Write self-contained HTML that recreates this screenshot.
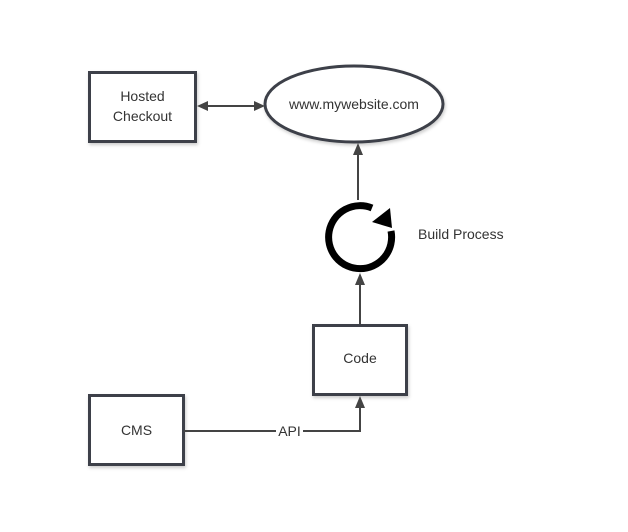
<!DOCTYPE html>
<html><head><style>
html,body{margin:0;padding:0;background:#fff;}
svg text{font-family:"Liberation Sans",sans-serif;fill:#333;font-size:14px;}
</style></head><body>
<svg width="628" height="527" viewBox="0 0 628 527" xmlns="http://www.w3.org/2000/svg">
<defs>
<filter id="sh" x="-10%" y="-10%" width="130%" height="130%"><feDropShadow dx="1" dy="2" stdDeviation="1.5" flood-opacity="0.2"/></filter>
</defs>
<g stroke="#3d4148" stroke-width="3" fill="#fff" filter="url(#sh)">
<rect x="89.5" y="72.5" width="106" height="69"/>
<ellipse cx="354" cy="104" rx="89" ry="38"/>
<rect x="313.5" y="325.5" width="93" height="69"/>
<rect x="89.5" y="395.5" width="94" height="69"/>
</g>
<g stroke="#444" stroke-width="2" fill="none">
<line x1="205" y1="106" x2="256" y2="106"/>
<line x1="358" y1="152" x2="358" y2="200"/>
<line x1="360" y1="283" x2="360" y2="324"/>
<polyline points="184,431 360,431 360,405"/>
</g>
<g fill="#444">
<polygon points="197,106 208,101 208,111"/>
<polygon points="265,106 254,101 254,111"/>
<polygon points="358,143 353,155 363,155"/>
<polygon points="360,273 355,285 365,285"/>
<polygon points="360,396 355,408 365,408"/>
</g>
<path d="M391 231 A31.5 31.5 0 1 1 372 208" stroke="#000" stroke-width="7" fill="none"/>
<polygon points="390,208 392,228 372,222" fill="#000"/>
<rect x="276" y="423" width="27" height="16" fill="#fff"/>
<text x="289.5" y="436" text-anchor="middle">API</text>
<text x="142.5" y="101" text-anchor="middle">Hosted</text>
<text x="142.5" y="121" text-anchor="middle">Checkout</text>
<text x="354" y="109" text-anchor="middle">www.mywebsite.com</text>
<text x="360" y="363" text-anchor="middle">Code</text>
<text x="136.5" y="435" text-anchor="middle">CMS</text>
<text x="418" y="239">Build Process</text>
</svg>
</body></html>
